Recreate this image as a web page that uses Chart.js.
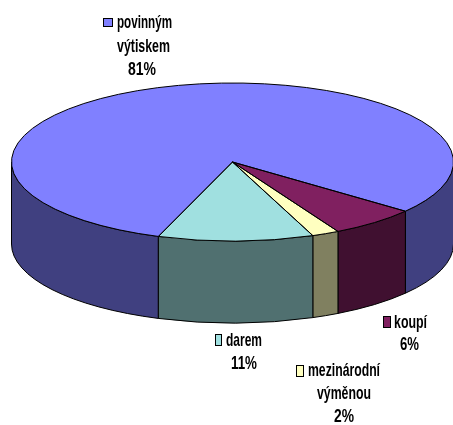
<!DOCTYPE html>
<html>
<head>
<meta charset="utf-8">
<style>html,body{margin:0;padding:0;background:#fff}canvas{display:block}</style>
<script src="https://cdn.jsdelivr.net/npm/chart.js@4/dist/chart.umd.min.js"></script>
</head>
<body>
<canvas id="c" width="453" height="425"></canvas>
<script>
const categories = ["povinným výtiskem", "koupí", "mezinárodní výměnou", "darem"];
const shares = [80.5, 6.4, 2, 11.4];
const percentLabels = ["81%", "6%", "2%", "11%"];
const topColors = ["#8080FF", "#802060", "#FFFFC0", "#A0E0E0"];
const sideColors = ["#404080", "#401030", "#808060", "#507070"];
const startRotation = 199.6;
const view = {cx: 232.5, cy: 162, rx: 221, ry: 79, depth: 82};
const labelFont = "bold 19px 'Liberation Sans', sans-serif";
const labelBlocks = [
  {key: [103, 18, 10, 9], lines: [["povinným", 117, 23, 55], ["výtiskem", 117, 47, 53], [percentLabels[0], 128, 70, 28]]},
  {key: [383, 316, 8, 12], lines: [["koupí", 394, 323, 33], [percentLabels[1], 400, 345, 19]]},
  {key: [296, 365, 8, 12], lines: [["mezinárodní", 308, 371, 72], ["výměnou", 317, 394, 54], [percentLabels[2], 334, 417, 20]]},
  {key: [215, 334, 7, 12], lines: [["darem", 226, 341, 36], [percentLabels[3], 231, 364, 26]]}
];

const pie3d = {
  id: "pie3d",
  beforeDatasetDraw(chart) {
    const ctx = chart.ctx, arcs = chart.getDatasetMeta(0).data, a0 = arcs[0];
    const y0 = view.cy, y1 = view.cy + view.depth;
    ctx.save();
    ctx.lineWidth = 1;
    ctx.strokeStyle = "#000";
    arcs.forEach((arc, i) => {
      const s = arc.startAngle, e = arc.endAngle;
      for (let k = -2; k <= 2; k++) {
        const lo = Math.max(s, k * 2 * Math.PI), hi = Math.min(e, k * 2 * Math.PI + Math.PI);
        if (hi <= lo) continue;
        ctx.beginPath();
        ctx.ellipse(view.cx, y0, view.rx, view.ry, 0, lo, hi);
        ctx.ellipse(view.cx, y1, view.rx, view.ry, 0, hi, lo, true);
        ctx.closePath();
        ctx.fillStyle = sideColors[i];
        ctx.fill();
        ctx.stroke();
      }
    });
    ctx.restore();
    ctx.save();
    const k = view.rx / a0.outerRadius, m = view.ry / a0.outerRadius;
    ctx.translate(view.cx, view.cy);
    ctx.scale(k, m);
    ctx.translate(-a0.x, -a0.y);
  },
  afterDatasetDraw(chart) {
    const ctx = chart.ctx, arcs = chart.getDatasetMeta(0).data;
    ctx.restore();
    ctx.save();
    ctx.lineWidth = 1;
    ctx.strokeStyle = "#000";
    arcs.forEach(arc => {
      ctx.beginPath();
      ctx.moveTo(view.cx, view.cy);
      ctx.ellipse(view.cx, view.cy, view.rx, view.ry, 0, arc.startAngle, arc.endAngle);
      ctx.closePath();
      ctx.stroke();
    });
    ctx.restore();
  },
  afterDraw(chart) {
    const ctx = chart.ctx;
    ctx.save();
    ctx.font = labelFont;
    ctx.textBaseline = "middle";
    ctx.textAlign = "left";
    labelBlocks.forEach((b, i) => {
      ctx.fillStyle = topColors[i];
      ctx.fillRect(b.key[0], b.key[1], b.key[2], b.key[3]);
      ctx.strokeStyle = "#000";
      ctx.lineWidth = 1;
      ctx.strokeRect(b.key[0] + .5, b.key[1] + .5, b.key[2] - 1, b.key[3] - 1);
      ctx.fillStyle = "#000";
      b.lines.forEach(l => ctx.fillText(l[0], l[1], l[2], l[3]));
    });
    ctx.restore();
  }
};

new Chart(document.getElementById("c"), {
  type: "pie",
  data: {labels: categories, datasets: [{data: shares, backgroundColor: topColors, borderWidth: 0}]},
  options: {
    responsive: false,
    animation: false,
    rotation: startRotation,
    plugins: {legend: {display: false}, tooltip: {enabled: false}},
    layout: {padding: 0}
  },
  plugins: [pie3d]
});
</script>
</body>
</html>
